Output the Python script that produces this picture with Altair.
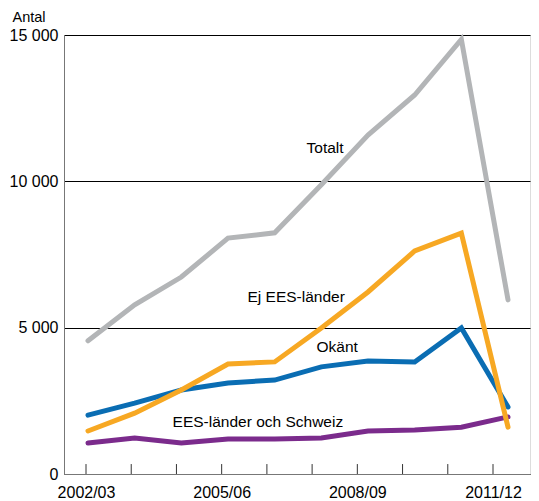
import altair as alt
import pandas as pd

years = ["2002/03", "2003/04", "2004/05", "2005/06", "2006/07",
         "2007/08", "2008/09", "2009/10", "2010/11", "2011/12"]
shown_years = ["2002/03", "2005/06", "2008/09", "2011/12"]

totalt = [4550, 5780, 6730, 8060, 8240, 9880, 11580, 12950, 14850, 5950]
ej_ees = [1470, 2080, 2870, 3760, 3830, 4990, 6220, 7620, 8230, 1600]
okant = [2010, 2420, 2870, 3110, 3210, 3660, 3860, 3830, 4990, 2290]
ees_schweiz = [1060, 1230, 1060, 1195, 1195, 1230, 1470, 1500, 1600, 1950]

series_names = ["Totalt", "Okänt", "EES-länder och Schweiz", "Ej EES-länder"]
series_values = [totalt, okant, ees_schweiz, ej_ees]
series_colors = ["#b3b5b7", "#0a6db3", "#7b2b8c", "#f7a823"]

label_text = ["Totalt", "Ej EES-länder", "Okänt", "EES-länder och Schweiz"]
label_x = [5.08, 4.46, 5.34, 3.64]
label_y = [11140, 6050, 4340, 1780]

FONT = "Liberation Sans"

y_scale = alt.Scale(domain=[0, 15000], nice=False, zero=True)
y_axis = alt.Axis(
    values=[0, 5000, 10000, 15000],
    labelExpr="replace(format(datum.value, ','), ',', ' ')",
    ticks=False, domainColor="#777", domainWidth=1,
    grid=True, gridColor="black", gridWidth=1, gridOpacity=1,
    labelFontSize=16, labelPadding=6, labelColor="black", labelFont=FONT,
    title="Antal", titleAngle=0, titleX=-52, titleY=-14,
    titleAlign="left", titleBaseline="alphabetic",
    titleFontWeight="normal", titleFontSize=14.5, titleColor="black", titleFont=FONT,
)
x_line_scale = alt.Scale(domain=[-0.514, 9.471], nice=False, zero=False)

layers = []
for name, vals, col in zip(series_names, series_values, series_colors):
    df = pd.DataFrame({"idx": list(range(len(years))), "year": years,
                       "value": vals, "series": name})
    layers.append(
        alt.Chart(df).mark_line(color=col, strokeWidth=5, strokeCap="round",
                                strokeJoin="miter").encode(
            x=alt.X("idx:Q", scale=x_line_scale, axis=None),
            y=alt.Y("value:Q", scale=y_scale, axis=y_axis),
        )
    )

lab_df = pd.DataFrame({"text": label_text, "idx": label_x, "value": label_y})
layers.append(
    alt.Chart(lab_df).mark_text(fontSize=15.5, font=FONT, color="black",
                                align="center", baseline="middle").encode(
        x=alt.X("idx:Q", scale=x_line_scale, axis=None),
        y=alt.Y("value:Q", scale=y_scale, axis=y_axis),
        text="text:N",
    )
)
main = alt.layer(*layers)

label_expr = "[" + ",".join(
    "'" + (y if y in shown_years else "") + "'" for y in years) + "][datum.value]"
tick_df = pd.DataFrame({"idx": list(range(len(years))), "year": years})
ticks = alt.Chart(tick_df).mark_rule(color="#333", strokeWidth=1).encode(
    x=alt.X("idx:Q", scale=alt.Scale(domain=[-0.4865, 9.818], nice=False, zero=False),
            axis=alt.Axis(values=list(range(len(years))), labelExpr=label_expr,
                          ticks=False, domainColor="#777", labelFontSize=16,
                          labelFont=FONT, labelColor="black", labelPadding=10,
                          labelOverlap=False, title=None, grid=False)),
    y=alt.YDatum(0, scale=alt.Scale(domain=[0, 15000], nice=False), axis=None),
    y2=alt.Y2Datum(340),
)

chart = alt.layer(main, ticks).resolve_scale(
    x="independent", y="independent"
).properties(
    width=466, height=439,
    autosize="none",
    padding={"left": 56, "top": 27, "right": 1, "bottom": 26},
).configure_view(stroke="#333", strokeWidth=1).configure(font=FONT)

chart.save("out.html", embed_options={"renderer": "svg", "actions": False})
